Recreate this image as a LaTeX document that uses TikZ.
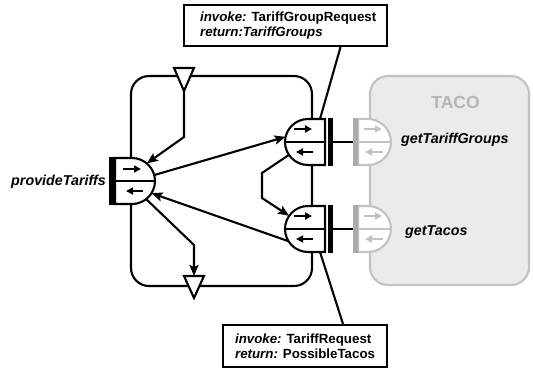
\documentclass[tikz,border=0pt]{standalone}
\usepackage{fontspec}
\setmainfont{Liberation Sans}
\usetikzlibrary{arrows.meta,calc}

\definecolor{tacofill}{HTML}{EBEBEB}
\definecolor{tacoline}{HTML}{C2C2C2}
\definecolor{tacobar}{HTML}{ABABAB}
\definecolor{tacotext}{HTML}{B5B5B5}

\tikzset{
  wire/.style={line width=2.1pt},
  flow/.style={wire,-{Stealth[length=11pt,width=9pt,inset=2pt]}},
  msg/.style={line width=1.7pt,-{Triangle[length=7pt,width=7pt]}},
  opname/.style={font=\fontsize{14.3pt}{16pt}\selectfont\bfseries\itshape,inner sep=0pt},
  callbox/.style={draw,line width=2.2pt,fill=white,inner sep=0pt},
  calltext/.style={font=\fontsize{13.3pt}{14.5pt}\selectfont\bfseries,align=left,inner sep=0pt},
  % port with the round side on the left (required)
  pics/reqport/.style={code={
    \draw[wire,fill=white] (0,-23) -- (17,-23) -- (17,23) -- (0,23) arc[start angle=90,end angle=270,radius=23] -- cycle;
    \draw[wire] (-23,0) -- (17,0);
    \fill (20,-24) rectangle (24.5,24);
    \draw[msg] (-14,-13) -- (4,-13);
    \draw[msg] (5,10) -- (-12,10);
    \coordinate (-bar) at (24,0);
    \coordinate (-top) at (12,-23);
    \coordinate (-bot) at (12,23);
  }},
  % port with the round side on the right (provided)
  pics/provport/.style={code={
    \draw[wire,fill=white] (0,-23) -- (-17,-23) -- (-17,23) -- (0,23) arc[start angle=90,end angle=-90,radius=23] -- cycle;
    \draw[wire] (-17,0) -- (23,0);
    \fill (-23,-24) rectangle (-17,24);
    \draw[msg] (-9,-12) -- (9,-12);
    \draw[msg] (11,10) -- (-6,10);
  }},
  pics/tacoport/.style={code={
    \draw[wire,draw=tacoline,fill=white] (0,-23) -- (-10,-23) -- (-10,23) -- (0,23) arc[start angle=90,end angle=-90,radius=23] -- cycle;
    \draw[wire,draw=tacoline] (-10,0) -- (23,0);
    \fill[tacobar] (-15,-24) rectangle (-10,24);
    \draw[msg,tacoline] (-4,-13) -- (14,-13);
    \draw[msg,tacoline] (15,10) -- (-3,10);
    \coordinate (-bar) at (-15,0);
  }},
}

\begin{document}
\begin{tikzpicture}[x=1pt,y=-1pt]
  \useasboundingbox (0,0) rectangle (533,368);
  % components
  \draw[wire,draw=tacoline,fill=tacofill,rounded corners=18pt] (370,76) rectangle (529,285);
  \node[font=\fontsize{17.5pt}{20pt}\selectfont\bfseries,text=tacotext,inner sep=0pt] (lblTaco) at (455.5,102) {TACO};
  \draw[wire,rounded corners=18pt] (131,76) rectangle (312,286);

  % ports
  \coordinate (P) at (132,181);
  \coordinate (A) at (308,142);
  \coordinate (B) at (308,229);
  \pic (pP) at (P) {provport};
  \pic (pA) at (A) {reqport};
  \pic (pB) at (B) {reqport};
  \pic (tA) at (368,142) {tacoport};
  \pic (tB) at (368,229) {tacoport};
  \draw[wire] (pA-bar) -- (tA-bar);
  \draw[wire] (pB-bar) -- (tB-bar);

  % start and end
  \coordinate (trigIn) at (184,91);
  \coordinate (trigOut) at (194,276);
  \draw[wire,fill=white] (174,68) -- (194,68) -- (trigIn) -- cycle;
  \draw[wire,fill=white] (184,276) -- (204,276) -- (194,298) -- cycle;

  % flow
  \draw[flow] (trigIn) -- (184,137) -- ($(P)+(-50:23)$);
  \draw[flow] ($(P)+(-15:23)$) -- ($(A)+(193:23)$);
  \draw[flow] ($(A)+(146:23)$) -- (262,173) -- (262,198) -- ($(B)+(215:23)$);
  \draw[flow] ($(B)+(148:23)$) -- ($(P)+(32:23)$);
  \draw[flow] ($(P)+(52:23)$) -- (194,245) -- (trigOut);

  % notes
  \node[callbox,minimum width=203pt,minimum height=41pt] (callA) at (285.5,25.5) {};
  \node[calltext,anchor=west] (callAtext) at ([xshift=17pt]callA.west) {\textit{invoke:} TariffGroupRequest\\\textit{return:TariffGroups}};
  \node[callbox,minimum width=164pt,minimum height=42pt] (callB) at (305,346) {};
  \node[calltext,anchor=west] (callBtext) at ([xshift=13pt]callB.west) {\textit{invoke:} TariffRequest\\\textit{return:} PossibleTacos};
  \draw[wire] ([xshift=55pt]callA.south) -- (pA-top);
  \draw[wire] ([xshift=38pt]callB.north) -- (pB-bot);

  % operation names
  \node[opname,anchor=east] (lblP) at (106,182) {provideTariffs};
  \node[opname,anchor=west] (lblA) at (401,140) {getTariffGroups};
  \node[opname,anchor=west] (lblB) at (405,232) {getTacos};
\end{tikzpicture}
\end{document}
